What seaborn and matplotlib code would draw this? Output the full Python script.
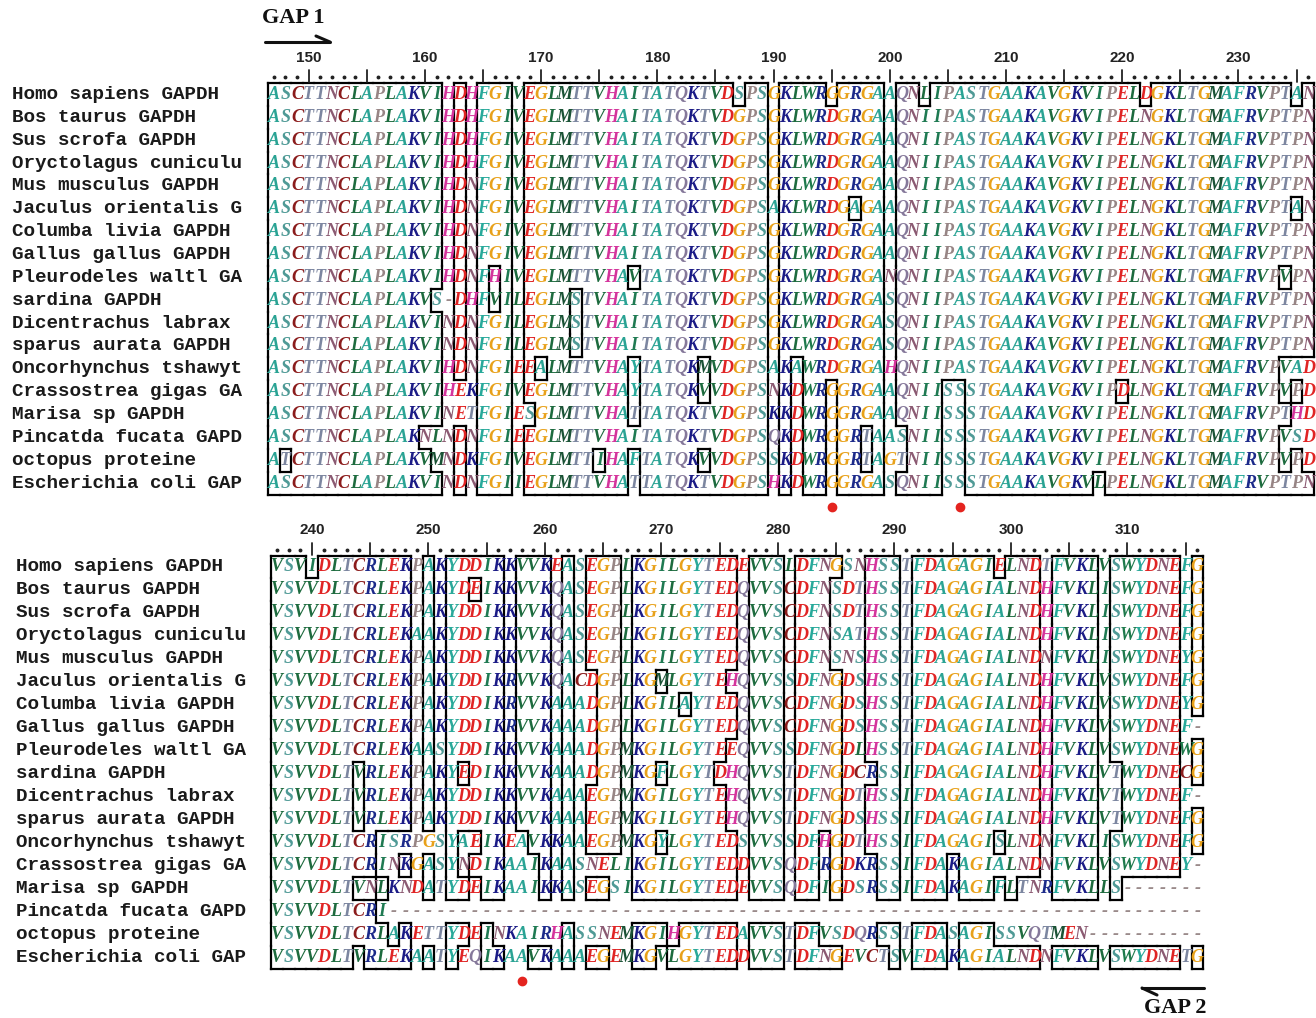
import numpy as np
import matplotlib
matplotlib.use("Agg")
import matplotlib.pyplot as plt
import seaborn as sns
from collections import Counter
from matplotlib.colors import ListedColormap
from matplotlib.collections import LineCollection
from matplotlib.lines import Line2D

# -----------------------------
# Data: sequence names and the two alignment blocks
# -----------------------------
names = [
    "Homo sapiens GAPDH", "Bos taurus GAPDH", "Sus scrofa GAPDH",
    "Oryctolagus cuniculu", "Mus musculus GAPDH", "Jaculus orientalis G",
    "Columba livia GAPDH", "Gallus gallus GAPDH", "Pleurodeles waltl GA",
    "sardina GAPDH", "Dicentrachus labrax", "sparus aurata GAPDH",
    "Oncorhynchus tshawyt", "Crassostrea gigas GA", "Marisa sp GAPDH",
    "Pincatda fucata GAPD", "octopus proteine", "Escherichia coli GAP",
]

top_start = 147
top_seqs = [
    "ASCTTNCLAP" "LAKVIHDHFG" "IVEGLMTTVH" "AITATQKTVD" "SPSGKLWRGG" "RGAAQNLIPA" "STGAAKAVGK" "VIPELDGKLT" "GMAFRVPTAN",
    "ASCTTNCLAP" "LAKVIHDHFG" "IVEGLMTTVH" "AITATQKTVD" "GPSGKLWRDG" "RGAAQNIIPA" "STGAAKAVGK" "VIPELNGKLT" "GMAFRVPTPN",
    "ASCTTNCLAP" "LAKVIHDHFG" "IVEGLMTTVH" "AITATQKTVD" "GPSGKLWRDG" "RGAAQNIIPA" "STGAAKAVGK" "VIPELNGKLT" "GMAFRVPTPN",
    "ASCTTNCLAP" "LAKVIHDHFG" "IVEGLMTTVH" "AITATQKTVD" "GPSGKLWRDG" "RGAAQNIIPA" "STGAAKAVGK" "VIPELNGKLT" "GMAFRVPTPN",
    "ASCTTNCLAP" "LAKVIHDNFG" "IVEGLMTTVH" "AITATQKTVD" "GPSGKLWRDG" "RGAAQNIIPA" "STGAAKAVGK" "VIPELNGKLT" "GMAFRVPTPN",
    "ASCTTNCLAP" "LAKVIHDNFG" "IVEGLMTTVH" "AITATQKTVD" "GPSAKLWRDG" "AGAAQNIIPA" "STGAAKAVGK" "VIPELNGKLT" "GMAFRVPTAN",
    "ASCTTNCLAP" "LAKVIHDNFG" "IVEGLMTTVH" "AITATQKTVD" "GPSGKLWRDG" "RGAAQNIIPA" "STGAAKAVGK" "VIPELNGKLT" "GMAFRVPTPN",
    "ASCTTNCLAP" "LAKVIHDNFG" "IVEGLMTTVH" "AITATQKTVD" "GPSGKLWRDG" "RGAAQNIIPA" "STGAAKAVGK" "VIPELNGKLT" "GMAFRVPTPN",
    "ASCTTNCLAP" "LAKVIHDNFH" "IVEGLMTTVH" "AVTATQKTVD" "GPSGKLWRDG" "RGANQNIIPA" "STGAAKAVGK" "VIPELNGKLT" "GMAFRVPVPN",
    "ASCTTNCLAP" "LAKVS-DHFV" "ILEGLMSTVH" "AITATQKTVD" "GPSGKLWRDG" "RGASQNIIPA" "STGAAKAVGK" "VIPELNGKLT" "GMAFRVPTPN",
    "ASCTTNCLAP" "LAKVINDNFG" "ILEGLMSTVH" "AITATQKTVD" "GPSGKLWRDG" "RGASQNIIPA" "STGAAKAVGK" "VIPELNGKLT" "GMAFRVPTPN",
    "ASCTTNCLAP" "LAKVINDNFG" "ILEGLMSTVH" "AITATQKTVD" "GPSGKLWRDG" "RGASQNIIPA" "STGAAKAVGK" "VIPELNGKLT" "GMAFRVPTPN",
    "ASCTTNCLAP" "LAKVIHDNFG" "IEEALMTTVH" "AYTATQKMVD" "GPSAKAWRDG" "RGAHQNIIPA" "STGAAKAVGK" "VIPELNGKLT" "GMAFRVPVAD",
    "ASCTTNCLAP" "LAKVIHEKFG" "IVEGLMTTVH" "AYTATQKVVD" "GPSNKDWRGG" "RGAAQNIISS" "STGAAKAVGK" "VIPDLNGKLT" "GMAFRVPVPD",
    "ASCTTNCLAP" "LAKVINETFG" "IESGLMTTVH" "ATTATQKTVD" "GPSKKDWRGG" "RGAAQNIISS" "STGAAKAVGK" "VIPELNGKLT" "GMAFRVPTHD",
    "ASCTTNCLAP" "LAKNLNDNFG" "IEEGLMTTVH" "AITATQKTVD" "GPSQKDWRGG" "RTAASNIISS" "STGAAKAVGK" "VIPELNGKLT" "GMAFRVPVSD",
    "ATCTTNCLAP" "LAKVMNDKFG" "IVEGLMTTIH" "AFTATQKVVD" "GPSSKDWRGG" "RTAGTNIISS" "STGAAKAVGK" "VIPELNGKLT" "GMAFRVPVPD",
    "ASCTTNCLAP" "LAKVINDNFG" "IIEGLMTTVH" "ATTATQKTVD" "GPSHKDWRGG" "RGASQNIISS" "STGAAKAVGK" "VLPELNGKLT" "GMAFRVPTPN",
]
top_boxes = [(147, 161), (163, 163), (165, 167), (169, 189), (191, 199), (201, 236)]
top_marks = [195, 206]

bot_start = 237
bot_seqs = [
    "VSVIDLTCRL" "EKPAKYDDIK" "KVVKEASEGP" "LKGILGYTED" "EVVSLDFNGS" "NHSSTFDAGA" "GIELNDTFVK" "LVSWYDNEFG",
    "VSVVDLTCRL" "EKPAKYDEIK" "KVVKQASEGP" "LKGILGYTED" "QVVSCDFNSD" "THSSTFDAGA" "GIALNDHFVK" "LISWYDNEFG",
    "VSVVDLTCRL" "EKPAKYDDIK" "KVVKQASEGP" "LKGILGYTED" "QVVSCDFNSD" "THSSTFDAGA" "GIALNDHFVK" "LISWYDNEFG",
    "VSVVDLTCRL" "EKAAKYDDIK" "KVVKQASEGP" "LKGILGYTED" "QVVSCDFNSA" "THSSTFDAGA" "GIALNDHFVK" "LISWYDNEFG",
    "VSVVDLTCRL" "EKPAKYDDIK" "KVVKQASEGP" "LKGILGYTED" "QVVSCDFNSN" "SHSSTFDAGA" "GIALNDNFVK" "LISWYDNEYG",
    "VSVVDLTCRL" "EKPAKYDDIK" "RVVKQACDGP" "LKGMLGYTEH" "QVVSSDFNGD" "SHSSTFDAGA" "GIALNDHFVK" "LVSWYDNEFG",
    "VSVVDLTCRL" "EKPAKYDDIK" "RVVKAAADGP" "LKGILAYTED" "QVVSCDFNGD" "SHSSTFDAGA" "GIALNDHFVK" "LVSWYDNEYG",
    "VSVVDLTCRL" "EKPAKYDDIK" "RVVKAAADGP" "LKGILGYTED" "QVVSCDFNGD" "SHSSTFDAGA" "GIALNDHFVK" "LVSWYDNEF-",
    "VSVVDLTCRL" "EKAASYDDIK" "KVVKAAADGP" "MKGILGYTEE" "QVVSSDFNGD" "LHSSTFDAGA" "GIALNDHFVK" "LVSWYDNEWG",
    "VSVVDLTVRL" "EKPAKYEDIK" "KVVKAAADGP" "MKGFLGYTDH" "QVVSTDFNGD" "CRSSIFDAGA" "GIALNDHFVK" "LVTWYDNECG",
    "VSVVDLTVRL" "EKPAKYDDIK" "KVVKAAAEGP" "MKGILGYTEH" "QVVSTDFNGD" "THSSIFDAGA" "GIALNDHFVK" "LVTWYDNEF-",
    "VSVVDLTVRL" "EKPAKYDDIK" "KVVKAAAEGP" "MKGILGYTEH" "QVVSTDFNGD" "SHSSIFDAGA" "GIALNDHFVK" "LVTWYDNEFG",
    "VSVVDLTCRI" "SRPGSYAEIK" "EAVKKAAEGP" "MKGYLGYTED" "SVVSSDFHGD" "THSSIFDAGA" "GISLNDNFVK" "LISWYDNEFG",
    "VSVVDLTCRI" "NKGASYNDIK" "AAIKAASNEL" "IKGILGYTED" "DVVSQDFRGD" "KRSSIFDAKA" "GIALNDNFVK" "LVSWYDNEY-",
    "VSVVDLTVNL" "KNDATYDEIK" "AAIKKASEGS" "IKGILGYTED" "EVVSQDFIGD" "SRSSIFDAKA" "GIFLTNRFVK" "LLS-------",
    "VSVVDLTCRI" "----------" "----------" "----------" "----------" "----------" "----------" "----------",
    "VSVVDLTCRL" "AKETTYDEIN" "KAIRHASSNE" "MKGIHGYTED" "AVVSTDFVSD" "QRSSTFDASA" "GISSVQTMEN" "----------",
    "VSVVDLTVRL" "EKAATYEQIK" "AAVKAAAEGE" "MKGVLGYTED" "DVVSTDFNGE" "VCTSVFDAKA" "GIALNDNFVK" "LVSWYDNETG",
]
bot_boxes = [(237, 248), (250, 250), (252, 256), (258, 260), (262, 262), (264, 266),
             (268, 276), (278, 280), (282, 285), (288, 290), (292, 302), (304, 307),
             (309, 314), (316, 316)]
bot_marks = [258]

# residue colours
RES_COLORS = {
    "A": "#2aa394", "S": "#4f9a96", "C": "#8b1c1c", "T": "#7c86a0",
    "N": "#8b5a72", "L": "#1d6b3e", "P": "#978585", "K": "#1b1b86",
    "V": "#1d6b3e", "I": "#1f7a52", "H": "#d4349c", "D": "#e02424",
    "E": "#e02424", "F": "#27a99a", "G": "#e8a11a", "M": "#1a5235",
    "Q": "#85789a", "R": "#1c2a8a", "W": "#1f7a4c", "Y": "#2aa99a",
    "-": "#9a8a8a",
}

W, H = 1316, 1018
fig = plt.figure(figsize=(W / 100, H / 100), dpi=100)
sns.set_style("white")


def px_axes(left, top, right, bottom):
    return fig.add_axes([left / W, 1 - bottom / H, (right - left) / W, (bottom - top) / H])


def draw_block(ax, seqs, start, boxes, marks, name_pad):
    grid = np.array([list(s) for s in seqs])
    nr, nc = grid.shape
    sns.heatmap(np.zeros(grid.shape), ax=ax, cmap=ListedColormap(["white"]), cbar=False,
                annot=grid, fmt="", xticklabels=False, yticklabels=names,
                annot_kws=dict(fontsize=13, fontfamily="Liberation Serif",
                               fontweight="bold", fontstyle="italic"))
    for t, ch in zip(ax.texts, grid.flat):
        t.set_color(RES_COLORS.get(ch, "#888888"))

    # names on the left
    ax.tick_params(axis="y", length=0, pad=name_pad)
    for lbl in ax.get_yticklabels():
        lbl.set_rotation(0)
        lbl.set_ha("left")
        lbl.set_fontfamily("Liberation Mono")
        lbl.set_fontweight("bold")
        lbl.set_fontsize(13.9)
        lbl.set_color("#1a1a1a")

    # conserved blocks: outline cells identical to the column consensus
    cons = [Counter(c for c in grid[:, j] if c != "-").most_common(1)[0][0] for j in range(nc)]
    in_box = np.zeros(grid.shape, bool)
    for a, b in boxes:
        for j in range(a - start, b - start + 1):
            in_box[:, j] = grid[:, j] == cons[j]
    segs = []
    for i, j in np.argwhere(in_box):
        if i == 0 or not in_box[i - 1, j]:
            segs.append([(j, i), (j + 1, i)])
        if i == nr - 1 or not in_box[i + 1, j]:
            segs.append([(j, i + 1), (j + 1, i + 1)])
        if j == 0 or not in_box[i, j - 1]:
            segs.append([(j, i), (j, i + 1)])
        if j == nc - 1 or not in_box[i, j + 1]:
            segs.append([(j + 1, i), (j + 1, i + 1)])
    ax.add_collection(LineCollection(segs, colors="black", linewidths=1.6,
                                     capstyle="projecting", clip_on=False))

    # ruler above the block
    h = ax.bbox.height
    trans = ax.get_xaxis_transform()
    cols = np.arange(start, start + nc)
    xs = cols - start + 0.5
    dots = xs[cols % 5 != 0]
    ax.plot(dots, np.full(len(dots), 1 + 6 / h), transform=trans, ls="none",
            marker="o", ms=1.8, color="#222222", clip_on=False)
    for x, c in zip(xs, cols):
        if c % 5 == 0:
            ax.plot([x, x], [1 + 0.5 / h, 1 + 13 / h], transform=trans, color="#222222",
                    lw=1.3, clip_on=False)
        if c % 10 == 0:
            ax.text(x, 1 + 25 / h, str(c), transform=trans, ha="center", va="center",
                    fontsize=11, fontweight="bold", fontfamily="Liberation Sans",
                    color="#222222")

    # marked positions below the block
    xm = [m - start + 0.5 for m in marks]
    ax.plot(xm, np.full(len(xm), -12.5 / h), transform=trans, ls="none", marker="o",
            ms=6, color="#e4241f", clip_on=False)


ax_top = px_axes(268, 83, 1314, 494.5)
draw_block(ax_top, top_seqs, top_start, top_boxes, top_marks, name_pad=256 * 0.72)

ax_bot = px_axes(271.2, 555.5, 1203.2, 968.5)
draw_block(ax_bot, bot_seqs, bot_start, bot_boxes, bot_marks, name_pad=255 * 0.72)

# GAP annotations
fig.text(262 / W, 1 - 18 / H, "GAP 1", fontsize=16, fontweight="bold",
         fontfamily="Liberation Serif", ha="left", va="center", color="#111111")
fig.add_artist(Line2D([265 / W, 330 / W], [1 - 42 / H, 1 - 42 / H], color="#111111", lw=2.2))
fig.add_artist(Line2D([316 / W, 330 / W], [1 - 36 / H, 1 - 42 / H], color="#111111", lw=2.2))

fig.text(1206 / W, 1 - 1008 / H, "GAP 2", fontsize=16, fontweight="bold",
         fontfamily="Liberation Serif", ha="right", va="center", color="#111111")
fig.add_artist(Line2D([1142 / W, 1204 / W], [1 - 988 / H, 1 - 988 / H], color="#111111", lw=2.2))
fig.add_artist(Line2D([1142 / W, 1157 / W], [1 - 988 / H, 1 - 995 / H], color="#111111", lw=2.2))

fig.savefig("out.png", dpi=100)
